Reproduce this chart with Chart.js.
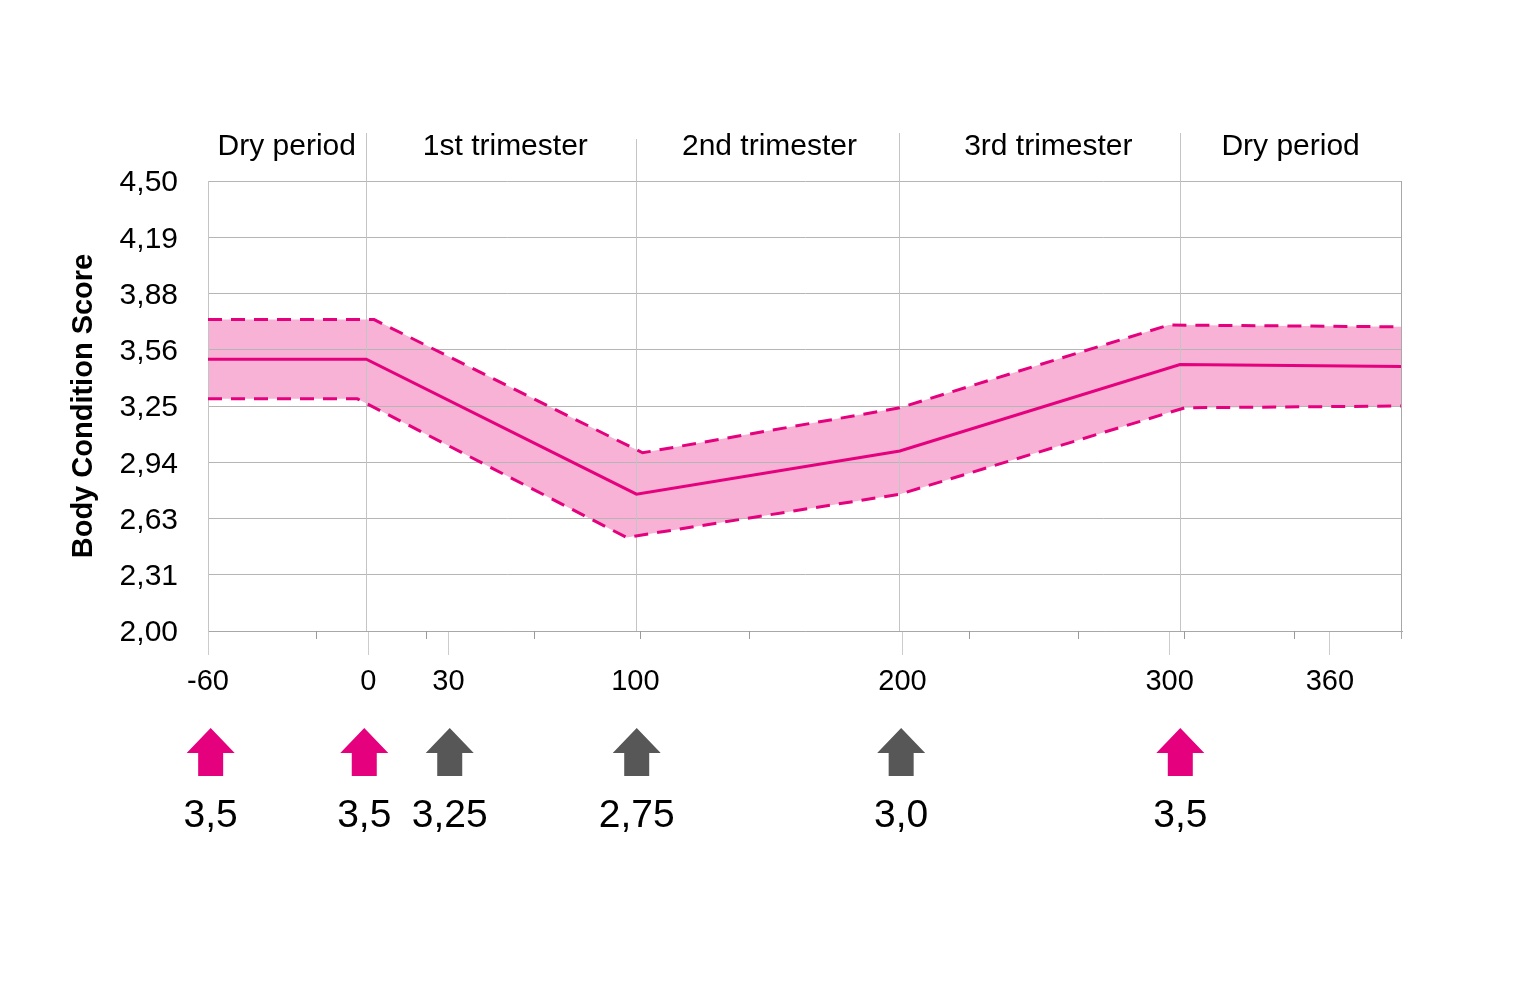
<!DOCTYPE html>
<html>
<head>
<meta charset="utf-8">
<script src="https://cdn.jsdelivr.net/npm/chart.js@4.4.0/dist/chart.umd.min.js"></script>
<style>
html,body{margin:0;padding:0;background:#fff;}
#wrap{width:1523px;height:1000px;position:relative;}
</style>
</head>
<body>
<div id="wrap"><canvas id="c" width="1523" height="1000"></canvas></div>
<script>
// ---- data ----
const xTickValues = [-60, 0, 30, 100, 200, 300, 360];
const minorTickDays = [-19.5, 21.7, 62.2, 101.9, 142.4, 224.8, 265.7, 305.4, 346.6];
const yTickLabels = ['2,00', '2,31', '2,63', '2,94', '3,25', '3,56', '3,88', '4,19', '4,50'];

const meanDays  = [-60, -0.75, 100.4, 199, 303.9, 387];
const meanScore = [3.51, 3.51, 2.76, 3.00, 3.48, 3.47];
const upperDays  = [-60, 2.2, 102.7, 199, 299.7, 387];
const upperScore = [3.73, 3.73, 2.99, 3.24, 3.70, 3.69];
const lowerDays  = [-60, -4.1, 96.7, 199, 305.7, 387];
const lowerScore = [3.29, 3.29, 2.52, 2.76, 3.24, 3.25];

const phaseNames = ['Dry period', '1st trimester', '2nd trimester', '3rd trimester', 'Dry period'];
const phaseLabelDays = [-30.5, 51.3, 150.2, 254.6, 345.3];
const phaseBoundaryDays = [-0.75, 100.4, 198.8, 303.9];

const targetDays = [-59, -1.5, 30.5, 100.5, 199.5, 304];
const targetLabels = ['3,5', '3,5', '3,25', '2,75', '3,0', '3,5'];
const targetKinds = ['pink', 'pink', 'gray', 'gray', 'gray', 'pink'];

// ---- styling ----
const PINK = '#e5007d';
const BAND = '#f7b2d6';
const GRAY_ARROW = '#575757';
const FONT = '"Liberation Sans", Arial, Helvetica, sans-serif';
Chart.defaults.font.family = FONT;
Chart.defaults.color = '#000';

const toPts = (xs, ys) => xs.map((x, i) => ({x: x, y: ys[i]}));

const extras = {
  id: 'extras',
  beforeDatasetsDraw(chart) {
    const {ctx, chartArea, scales} = chart;
    const xs = scales.x;
    ctx.save();
    ctx.strokeStyle = '#c4c4c4';
    ctx.lineWidth = 1;
    phaseBoundaryDays.forEach((d, i) => {
      const px = Math.round(xs.getPixelForValue(d)) + 0.5;
      ctx.beginPath();
      ctx.moveTo(px, i === 1 ? 139 : 133);
      ctx.lineTo(px, chartArea.bottom);
      ctx.stroke();
    });
    ctx.restore();
  },
  afterDraw(chart) {
    const {ctx, chartArea, scales} = chart;
    const xs = scales.x;
    ctx.save();
    // right border of plot
    ctx.strokeStyle = '#a8a8a8';
    ctx.lineWidth = 1;
    const rx = Math.round(chartArea.right) - 0.5;
    ctx.beginPath();
    ctx.moveTo(rx, chartArea.top);
    ctx.lineTo(rx, chartArea.bottom + 8);
    ctx.stroke();
    // minor ticks
    ctx.strokeStyle = '#9a9a9a';
    minorTickDays.forEach(d => {
      const px = Math.round(xs.getPixelForValue(d)) + 0.5;
      ctx.beginPath();
      ctx.moveTo(px, chartArea.bottom);
      ctx.lineTo(px, chartArea.bottom + 8);
      ctx.stroke();
    });
    // phase labels
    ctx.fillStyle = '#000';
    ctx.font = '30px ' + FONT;
    ctx.textAlign = 'center';
    ctx.textBaseline = 'alphabetic';
    phaseNames.forEach((n, i) => {
      ctx.fillText(n, xs.getPixelForValue(phaseLabelDays[i]), 155);
    });
    // target arrows and values
    targetDays.forEach((d, i) => {
      const cx = xs.getPixelForValue(d);
      ctx.fillStyle = targetKinds[i] === 'pink' ? PINK : GRAY_ARROW;
      ctx.beginPath();
      ctx.moveTo(cx, 728);
      ctx.lineTo(cx + 24, 753);
      ctx.lineTo(cx + 12.5, 753);
      ctx.lineTo(cx + 12.5, 776);
      ctx.lineTo(cx - 12.5, 776);
      ctx.lineTo(cx - 12.5, 753);
      ctx.lineTo(cx - 24, 753);
      ctx.closePath();
      ctx.fill();
      ctx.fillStyle = '#000';
      ctx.font = '39px ' + FONT;
      ctx.fillText(targetLabels[i], cx, 827);
    });
    ctx.restore();
  }
};

new Chart(document.getElementById('c'), {
  type: 'line',
  data: {
    datasets: [
      {
        label: 'upper',
        data: toPts(upperDays, upperScore),
        borderColor: PINK,
        borderWidth: 3,
        borderDash: [14, 9],
        backgroundColor: BAND,
        fill: '+1',
        pointRadius: 0,
        tension: 0
      },
      {
        label: 'lower',
        data: toPts(lowerDays, lowerScore),
        borderColor: PINK,
        borderWidth: 3,
        borderDash: [14, 9],
        fill: false,
        pointRadius: 0,
        tension: 0
      },
      {
        label: 'mean',
        data: toPts(meanDays, meanScore),
        borderColor: PINK,
        borderWidth: 3,
        fill: false,
        pointRadius: 0,
        tension: 0
      }
    ]
  },
  options: {
    responsive: false,
    animation: false,
    layout: {padding: {top: 181, right: 121, bottom: 0, left: 0}},
    plugins: {
      legend: {display: false},
      tooltip: {enabled: false},
      filler: {drawTime: 'beforeDraw'}
    },
    scales: {
      x: {
        type: 'linear',
        min: -60,
        max: 387,
        afterBuildTicks: s => { s.ticks = xTickValues.map(v => ({value: v})); },
        afterFit: s => { s.height = 369; },
        ticks: {
          font: {size: 29},
          color: '#000',
          padding: 10,
          maxRotation: 0,
          autoSkip: false,
          callback: v => String(v)
        },
        grid: {
          drawOnChartArea: false,
          drawTicks: true,
          tickLength: 24,
          tickColor: c => (c.tick && c.tick.value === 100) ? 'rgba(0,0,0,0)' : '#cccccc'
        },
        border: {display: true, color: '#a8a8a8', width: 1}
      },
      y: {
        type: 'linear',
        min: 2,
        max: 4.5,
        afterBuildTicks: s => { s.ticks = yTickLabels.map((t, i) => ({value: 2 + i * 0.3125})); },
        afterFit: s => { s.width = 208; },
        ticks: {
          font: {size: 30},
          color: '#000',
          padding: 30,
          labelOffset: 2,
          callback: (v, i) => yTickLabels[i]
        },
        grid: {color: '#b5b5b5', lineWidth: 1, drawTicks: false},
        border: {display: true, color: '#c4c4c4', width: 1},
        title: {
          display: true,
          text: 'Body Condition Score',
          font: {size: 29, weight: 'bold'},
          color: '#000',
          padding: {top: 67, bottom: 0}
        }
      }
    }
  },
  plugins: [extras]
});
</script>
</body>
</html>
